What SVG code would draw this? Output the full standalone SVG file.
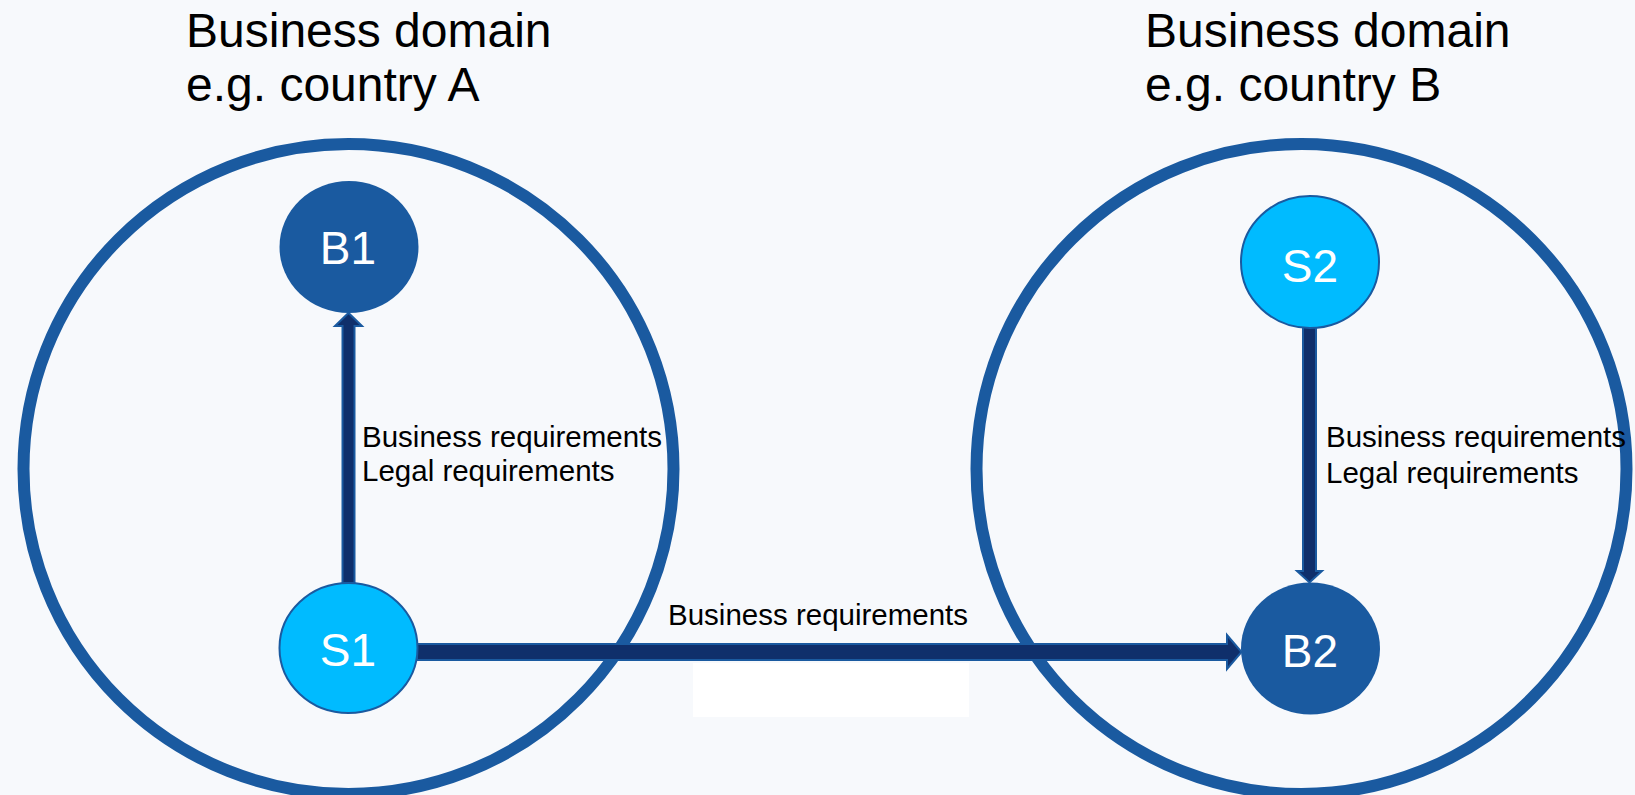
<svg xmlns="http://www.w3.org/2000/svg" width="1635" height="795" viewBox="0 0 1635 795">
<style>
.domain{fill:none;stroke:#1a5aa0;stroke-width:12}
.b{fill:#1a5aa0}
.s{fill:#00bbff;stroke:#1a5aa0;stroke-width:2}
.nt{font-family:"Liberation Sans",Arial,sans-serif;font-size:46px;fill:#ffffff;text-anchor:middle}
.title{font-family:"Liberation Sans",Arial,sans-serif;font-size:48px;fill:#000000}
.lbl{font-family:"Liberation Sans",Arial,sans-serif;font-size:29.5px;fill:#000000}
.arrow{fill:#0f2f6b;stroke:#1a5aa0;stroke-width:2;stroke-linejoin:miter}
</style>
<rect x="0" y="0" width="1635" height="795" fill="#f7f9fc"/>
<g id="domainA">
<circle class="domain" cx="348.5" cy="469" r="325"/>
<text class="title" x="186" y="47">Business domain</text>
<text class="title" x="186" y="101">e.g. country A</text>
</g>
<g id="domainB">
<circle class="domain" cx="1301.5" cy="469" r="325"/>
<text class="title" x="1145" y="47">Business domain</text>
<text class="title" x="1145" y="101">e.g. country B</text>
</g>
<rect x="693" y="663" width="276" height="54" fill="#ffffff"/>
<g id="connectors">
<polygon class="arrow" points="342.5,583 342.5,326 335,326 348.5,313 362,326 354.5,326 354.5,583"/>
<polygon class="arrow" points="417,644 1227,644 1227,635 1241.5,652 1227,669 1227,660 417,660"/>
<polygon class="arrow" points="1303,327 1316,327 1316,571 1322,571 1309.5,582.5 1297,571 1303,571"/>
<text class="lbl" x="362" y="447">Business requirements</text>
<text class="lbl" x="362" y="481">Legal requirements</text>
<text class="lbl" x="668" y="625">Business requirements</text>
<text class="lbl" x="1326" y="447">Business requirements</text>
<text class="lbl" x="1326" y="483">Legal requirements</text>
</g>
<g id="B1">
<ellipse class="b" cx="349" cy="247" rx="69.5" ry="66"/>
<text class="nt" x="348" y="264">B1</text>
</g>
<g id="S1">
<ellipse class="s" cx="348.5" cy="648" rx="69" ry="65"/>
<text class="nt" x="348" y="666">S1</text>
</g>
<g id="S2">
<ellipse class="s" cx="1310" cy="262" rx="69" ry="66"/>
<text class="nt" x="1310" y="282">S2</text>
</g>
<g id="B2">
<ellipse class="b" cx="1310.5" cy="648.5" rx="69.5" ry="66"/>
<text class="nt" x="1310" y="667">B2</text>
</g>
</svg>
